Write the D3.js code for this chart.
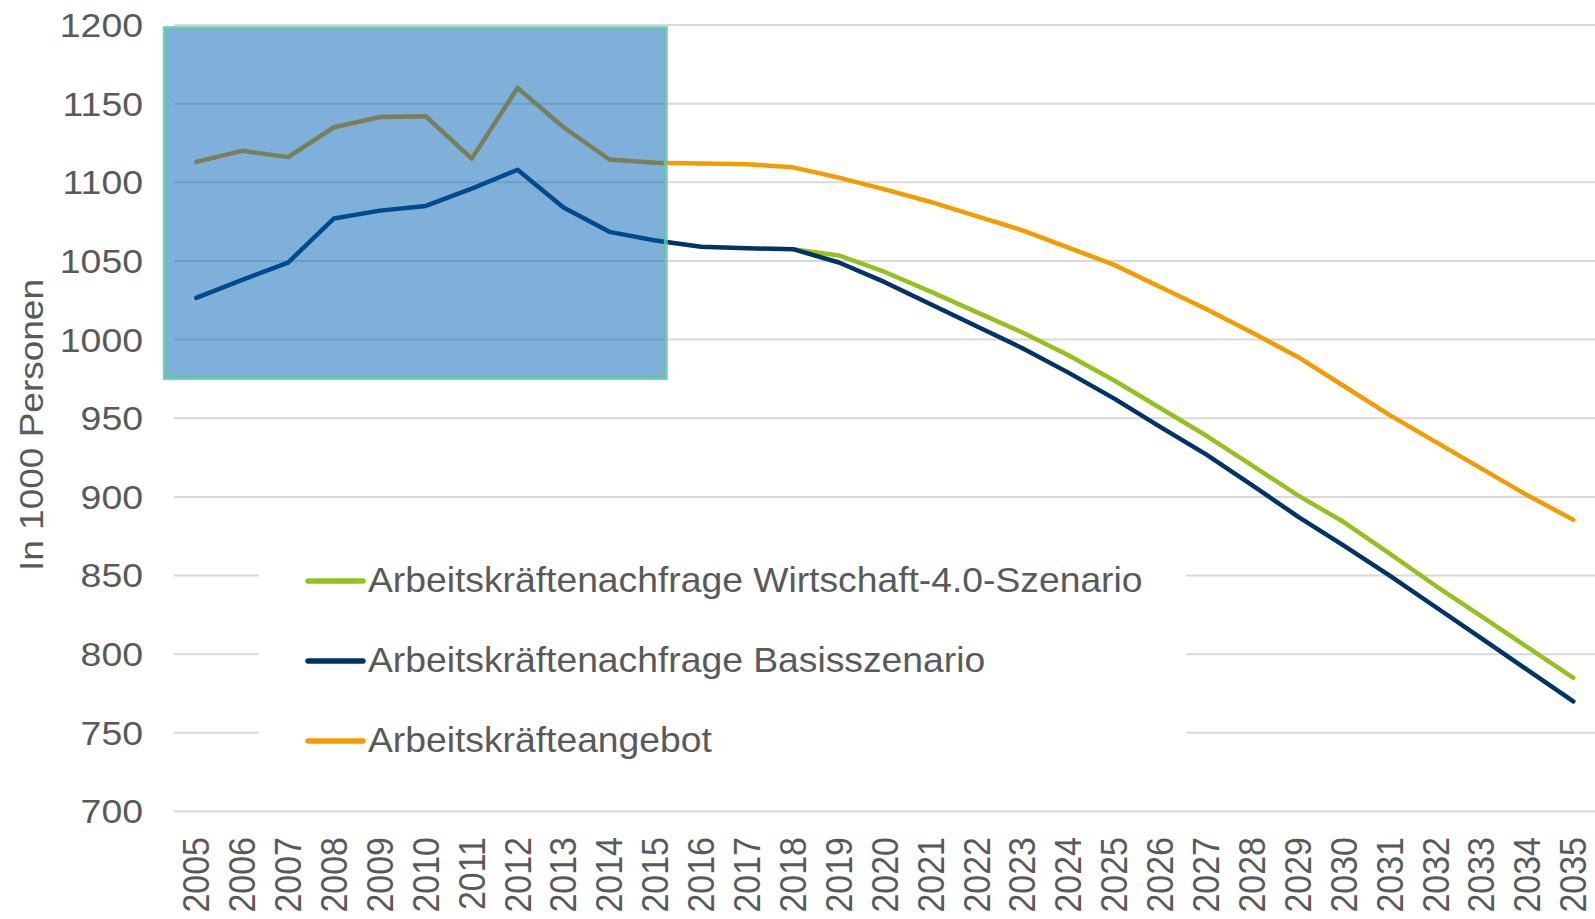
<!DOCTYPE html>
<html>
<head>
<meta charset="utf-8">
<script src="https://cdn.jsdelivr.net/npm/d3@7"></script>
<style>
  body { margin: 0; background: #fff; }
  text { font-family: "Liberation Sans", Arial, sans-serif; fill: #595959; }
</style>
</head>
<body>
<div id="chart"></div>
<script>
const years = [2005, 2006, 2007, 2008, 2009, 2010, 2011, 2012, 2013, 2014, 2015,
    2016, 2017, 2018, 2019, 2020, 2021, 2022, 2023, 2024, 2025,
    2026, 2027, 2028, 2029, 2030, 2031, 2032, 2033, 2034, 2035];

// Arbeitskräfteangebot (2005-2035)
const angebot = [1113, 1120, 1116, 1135, 1141.5, 1142, 1115, 1160, 1135, 1114.5, 1112.5,
    1112, 1111.5, 1109.5, 1103, 1095.5, 1087.5, 1078.5, 1069.5, 1058.5, 1047.5,
    1033.5, 1019.5, 1004.5, 989, 970.5, 952, 935, 918, 901, 885.5];

// Arbeitskräftenachfrage Basisszenario (2005-2035)
const basis = [1026.5, 1038, 1049, 1077, 1082, 1085, 1096, 1108, 1084, 1068.5, 1063,
    1059, 1058, 1057.5, 1049, 1036.5, 1022.5, 1008.5, 994.5, 979, 962.5,
    944.5, 927, 907.5, 887.5, 869, 850, 830, 810, 790, 770];

// Arbeitskräftenachfrage Wirtschaft-4.0-Szenario (ab 2018)
const wirtschaft = [null, null, null, null, null, null, null, null, null, null, null,
    null, null, 1057.5, 1053.5, 1043, 1030.5, 1017.5, 1004.5, 990, 974,
    956.5, 939, 920, 901, 884, 864, 843.5, 824, 804.5, 785];

const yTicks = [700, 750, 800, 850, 900, 950, 1000, 1050, 1100, 1150, 1200];

// hervorgehobener Zeitraum (Box)
const boxYears = [2005, 2015];
const boxValues = [975.5, 1198];

const series = [
    {name: "Arbeitskräftenachfrage Wirtschaft-4.0-Szenario", values: wirtschaft, color: "#95c11f"},
    {name: "Arbeitskräftenachfrage Basisszenario", values: basis, color: "#003366"},
    {name: "Arbeitskräfteangebot", values: angebot, color: "#f39c00"}
];

const width = 1595, height = 919;

const svg = d3.select("#chart")
    .append("svg")
    .attr("width", width)
    .attr("height", height);

const x = d3.scalePoint()
    .domain(years)
    .range([196.3, 1573.3]);

const y = d3.scaleLinear()
    .domain([700, 1200])
    .range([811.5, 25]);

// gridlines
svg.append("g")
    .selectAll("line")
    .data(yTicks)
    .enter()
    .append("line")
    .attr("x1", 174)
    .attr("x2", width)
    .attr("y1", d => y(d))
    .attr("y2", d => y(d))
    .attr("stroke", "#d9d9d9")
    .attr("stroke-width", 2);

// legend background covers gridlines
svg.append("rect")
    .attr("x", 259)
    .attr("y", 525)
    .attr("width", 927)
    .attr("height", 262)
    .attr("fill", "#fff");

const line = d3.line()
    .defined(d => d != null)
    .x((d, i) => x(years[i]))
    .y(d => y(d));

svg.append("g")
    .selectAll("path")
    .data(series)
    .enter()
    .append("path")
    .attr("d", d => line(d.values))
    .attr("fill", "none")
    .attr("stroke", d => d.color)
    .attr("stroke-width", 4.5)
    .attr("stroke-linejoin", "round")
    .attr("stroke-linecap", "round");

// semi-transparent highlight box
const bx0 = x(boxYears[0]) - 31.5,
    bx1 = x(boxYears[1]) + 10.5;
svg.append("rect")
    .attr("x", bx0)
    .attr("y", y(boxValues[1]))
    .attr("width", bx1 - bx0)
    .attr("height", y(boxValues[0]) - y(boxValues[1]))
    .attr("fill", "rgb(0,97,179)")
    .attr("fill-opacity", 0.5)
    .attr("stroke", "rgb(100,195,172)")
    .attr("stroke-opacity", 0.85)
    .attr("stroke-width", 4);

// y axis labels
svg.append("g")
    .selectAll("text")
    .data(yTicks)
    .enter()
    .append("text")
    .attr("transform", d => `translate(143,${y(d)}) scale(1.1,1)`)
    .attr("text-anchor", "end")
    .attr("dy", "0.35em")
    .style("font-size", "34px")
    .text(d => d);

// x axis labels
svg.append("g")
    .selectAll("text")
    .data(years)
    .enter()
    .append("text")
    .attr("transform", d => `translate(${x(d)},837) scale(1.09,1) rotate(-90)`)
    .attr("text-anchor", "end")
    .attr("dy", "0.35em")
    .style("font-size", "34px")
    .text(d => d);

// y axis title
svg.append("text")
    .attr("transform", "translate(31,425) scale(0.9,1) rotate(-90)")
    .attr("text-anchor", "middle")
    .attr("dy", "0.35em")
    .style("font-size", "37px")
    .text("In 1000 Personen");

// legend
const legend = svg.selectAll(".legend")
    .data(series)
    .enter().append("g")
    .attr("class", "legend")
    .attr("transform", (d, i) => `translate(0,${581 + i * 80})`);

legend.append("line")
    .attr("x1", 308)
    .attr("x2", 363)
    .attr("stroke", d => d.color)
    .attr("stroke-width", 5.5)
    .attr("stroke-linecap", "round");

legend.append("text")
    .attr("transform", "translate(368,11) scale(1.065,1)")
    .style("font-size", "35px")
    .text(d => d.name);
</script>
</body>
</html>
